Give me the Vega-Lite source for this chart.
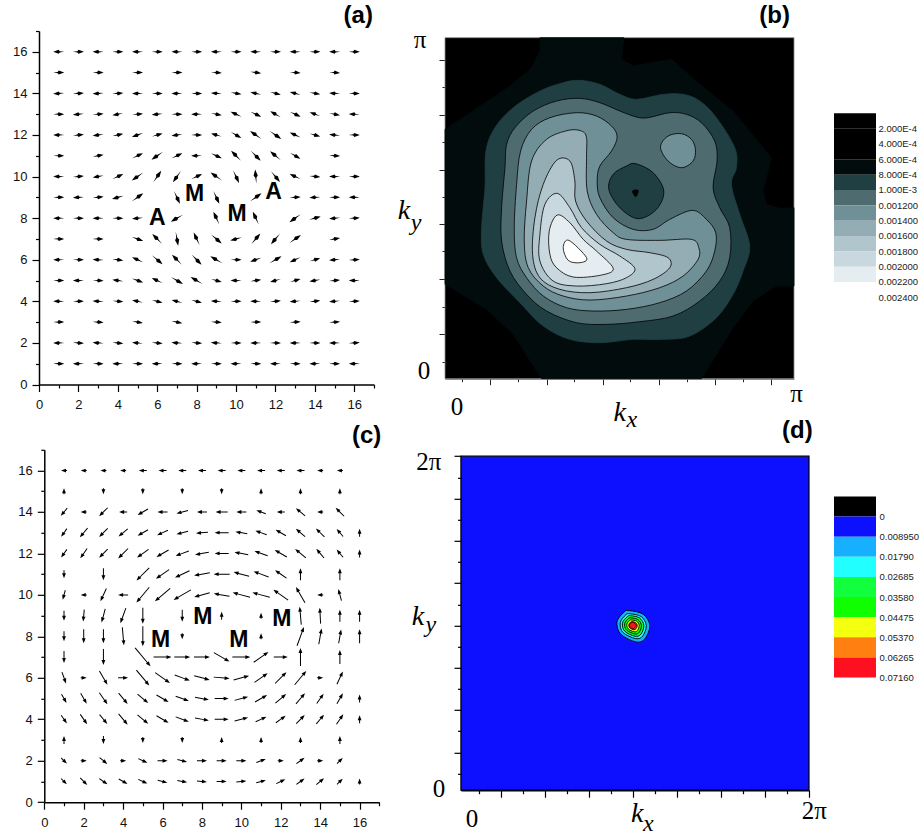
{
"$schema":"https://vega.github.io/schema/vega-lite/v6.json",
"background":"white",
"padding":{"left":12,"top":4,"right":0,"bottom":0},
"config":{"view":{"stroke":null},"axis":{"grid":false,"title":null,"labelFont":"Liberation Sans","labelColor":"#111","domainColor":"#000","tickColor":"#000","labelOverlap":false,"labelFlush":false}},
"bounds":"flush","spacing":{"row":64.8,"column":0},"columns":3,
"resolve":{"scale":{"fill":"independent","stroke":"independent","shape":"independent"}},
"concat":[
{"width":406,"height":353.5,
 "encoding":{"x":{"field":"x","type":"quantitative","scale":{"domain":[0,17],"nice":false,"range":[0,335]},"axis":{"values":[0,1,2,3,4,5,6,7,8,9,10,11,12,13,14,15,16,17],"labelExpr":"datum.value%2==0?datum.label:''","labelFontSize":13,"labelPadding":7,"domainWidth":1.5,"tickWidth":1.2,"tickSize":{"condition":{"test":"datum.value%2==0","value":7},"value":3.5}}},
 "y":{"field":"y","type":"quantitative","scale":{"domain":[0,17],"nice":false},"axis":{"values":[0,1,2,3,4,5,6,7,8,9,10,11,12,13,14,15,16,17],"labelExpr":"datum.value%2==0?datum.label:''","labelFontSize":13,"labelPadding":5,"domainWidth":1.5,"tickWidth":1.2,"tickSize":{"condition":{"test":"datum.value%2==0","value":7},"value":3.5}}}},
 "layer":[
 {"data":{"values":[
{"x":1,"y":16,"a":270,"l":11},{"x":2,"y":16,"a":90,"l":11},{"x":3,"y":16,"a":270,"l":11},{"x":4,"y":16,"a":90,"l":11},{"x":5,"y":16,"a":270,"l":11},{"x":6,"y":16,"a":90,"l":11},{"x":7,"y":16,"a":270,"l":11},{"x":8,"y":16,"a":90,"l":11},{"x":9,"y":16,"a":270,"l":11},{"x":10,"y":16,"a":90,"l":11},{"x":11,"y":16,"a":270,"l":11},{"x":12,"y":16,"a":90,"l":11},{"x":13,"y":16,"a":270,"l":11},{"x":14,"y":16,"a":90,"l":11},{"x":15,"y":16,"a":270,"l":11},{"x":16,"y":16,"a":90,"l":11},
{"x":1,"y":15,"a":90,"l":11},{"x":3,"y":15,"a":90,"l":11},{"x":5,"y":15,"a":90,"l":11},{"x":7,"y":15,"a":90,"l":11},{"x":9,"y":15,"a":95,"l":11},{"x":11,"y":15,"a":98,"l":11},{"x":13,"y":15,"a":95,"l":11},{"x":15,"y":15,"a":95,"l":11},
{"x":1,"y":14,"a":267,"l":11},{"x":2,"y":14,"a":87,"l":11},{"x":3,"y":14,"a":267,"l":11},{"x":4,"y":14,"a":87,"l":11},{"x":5,"y":14,"a":270,"l":11},{"x":6,"y":14,"a":90,"l":11},{"x":7,"y":14,"a":270,"l":11},{"x":8,"y":14,"a":90,"l":11},{"x":9,"y":14,"a":275,"l":11},{"x":10,"y":14,"a":100,"l":11},{"x":11,"y":14,"a":282,"l":11},{"x":12,"y":14,"a":105,"l":11},{"x":13,"y":14,"a":285,"l":11},{"x":14,"y":14,"a":100,"l":11},{"x":15,"y":14,"a":273,"l":11},{"x":16,"y":14,"a":90,"l":11},
{"x":1,"y":13,"a":90,"l":11},{"x":2,"y":13,"a":265,"l":11},{"x":3,"y":13,"a":85,"l":11},{"x":4,"y":13,"a":260,"l":11},{"x":5,"y":13,"a":85,"l":11},{"x":6,"y":13,"a":265,"l":11},{"x":7,"y":13,"a":90,"l":11},{"x":8,"y":13,"a":270,"l":11},{"x":9,"y":13,"a":100,"l":11},{"x":10,"y":13,"a":295,"l":12},{"x":11,"y":13,"a":115,"l":12},{"x":12,"y":13,"a":300,"l":12},{"x":13,"y":13,"a":115,"l":12},{"x":14,"y":13,"a":290,"l":11},{"x":15,"y":13,"a":100,"l":11},{"x":16,"y":13,"a":273,"l":11},
{"x":1,"y":12,"a":270,"l":11},{"x":2,"y":12,"a":85,"l":11},{"x":3,"y":12,"a":262,"l":11},{"x":4,"y":12,"a":78,"l":11},{"x":5,"y":12,"a":250,"l":12},{"x":6,"y":12,"a":75,"l":11},{"x":7,"y":12,"a":262,"l":11},{"x":8,"y":12,"a":90,"l":11},{"x":9,"y":12,"a":285,"l":11},{"x":10,"y":12,"a":120,"l":12},{"x":11,"y":12,"a":305,"l":14},{"x":12,"y":12,"a":125,"l":14},{"x":13,"y":12,"a":295,"l":12},{"x":14,"y":12,"a":105,"l":11},{"x":15,"y":12,"a":275,"l":11},{"x":16,"y":12,"a":90,"l":11},
{"x":1,"y":11,"a":90,"l":11},{"x":3,"y":11,"a":80,"l":11},{"x":5,"y":11,"a":65,"l":12},{"x":6,"y":11,"a":235,"l":14},{"x":7,"y":11,"a":65,"l":12},{"x":8,"y":11,"a":270,"l":11},{"x":9,"y":11,"a":115,"l":12},{"x":10,"y":11,"a":315,"l":14},{"x":11,"y":11,"a":135,"l":14},{"x":12,"y":11,"a":310,"l":14},{"x":13,"y":11,"a":120,"l":12},{"x":15,"y":11,"a":93,"l":11},
{"x":1,"y":10,"a":270,"l":11},{"x":2,"y":10,"a":85,"l":11},{"x":3,"y":10,"a":260,"l":11},{"x":4,"y":10,"a":65,"l":12},{"x":5,"y":10,"a":235,"l":14},{"x":6,"y":10,"a":35,"l":14},{"x":7,"y":10,"a":215,"l":14},{"x":8,"y":10,"a":65,"l":12},{"x":9,"y":10,"a":305,"l":14},{"x":10,"y":10,"a":155,"l":14},{"x":11,"y":10,"a":355,"l":14},{"x":12,"y":10,"a":140,"l":14},{"x":13,"y":10,"a":295,"l":12},{"x":14,"y":10,"a":95,"l":11},{"x":15,"y":10,"a":270,"l":11},{"x":16,"y":10,"a":90,"l":11},
{"x":1,"y":9,"a":90,"l":11},{"x":2,"y":9,"a":267,"l":11},{"x":3,"y":9,"a":85,"l":11},{"x":4,"y":9,"a":255,"l":12},{"x":5,"y":9,"a":55,"l":14},{"x":7,"y":9,"a":155,"l":14},{"x":9,"y":9,"a":155,"l":14},{"x":11,"y":9,"a":55,"l":14},{"x":13,"y":9,"a":87,"l":11},{"x":14,"y":9,"a":267,"l":11},{"x":15,"y":9,"a":90,"l":11},{"x":16,"y":9,"a":270,"l":11},
{"x":1,"y":8,"a":270,"l":11},{"x":2,"y":8,"a":90,"l":11},{"x":3,"y":8,"a":270,"l":11},{"x":4,"y":8,"a":90,"l":11},{"x":5,"y":8,"a":265,"l":11},{"x":7,"y":8,"a":240,"l":14},{"x":9,"y":8,"a":335,"l":14},{"x":11,"y":8,"a":335,"l":14},{"x":13,"y":8,"a":235,"l":14},{"x":14,"y":8,"a":75,"l":12},{"x":15,"y":8,"a":265,"l":11},{"x":16,"y":8,"a":87,"l":11},
{"x":1,"y":7,"a":90,"l":11},{"x":3,"y":7,"a":90,"l":11},{"x":5,"y":7,"a":110,"l":12},{"x":6,"y":7,"a":315,"l":14},{"x":7,"y":7,"a":170,"l":14},{"x":8,"y":7,"a":335,"l":14},{"x":9,"y":7,"a":130,"l":14},{"x":10,"y":7,"a":255,"l":12},{"x":11,"y":7,"a":40,"l":14},{"x":12,"y":7,"a":220,"l":14},{"x":13,"y":7,"a":55,"l":14},{"x":15,"y":7,"a":80,"l":11},
{"x":1,"y":6,"a":270,"l":11},{"x":2,"y":6,"a":90,"l":11},{"x":3,"y":6,"a":273,"l":11},{"x":4,"y":6,"a":98,"l":11},{"x":5,"y":6,"a":295,"l":12},{"x":6,"y":6,"a":130,"l":14},{"x":7,"y":6,"a":315,"l":14},{"x":8,"y":6,"a":135,"l":14},{"x":9,"y":6,"a":300,"l":14},{"x":10,"y":6,"a":90,"l":11},{"x":11,"y":6,"a":250,"l":12},{"x":12,"y":6,"a":60,"l":14},{"x":13,"y":6,"a":245,"l":12},{"x":14,"y":6,"a":75,"l":11},{"x":15,"y":6,"a":265,"l":11},{"x":16,"y":6,"a":87,"l":11},
{"x":1,"y":5,"a":90,"l":11},{"x":2,"y":5,"a":270,"l":11},{"x":3,"y":5,"a":93,"l":11},{"x":4,"y":5,"a":278,"l":11},{"x":5,"y":5,"a":110,"l":12},{"x":6,"y":5,"a":295,"l":12},{"x":7,"y":5,"a":120,"l":14},{"x":8,"y":5,"a":300,"l":14},{"x":9,"y":5,"a":105,"l":11},{"x":10,"y":5,"a":270,"l":11},{"x":11,"y":5,"a":82,"l":11},{"x":12,"y":5,"a":255,"l":11},{"x":13,"y":5,"a":75,"l":11},{"x":14,"y":5,"a":260,"l":11},{"x":15,"y":5,"a":85,"l":11},{"x":16,"y":5,"a":270,"l":11},
{"x":1,"y":4,"a":270,"l":11},{"x":2,"y":4,"a":90,"l":11},{"x":3,"y":4,"a":273,"l":11},{"x":4,"y":4,"a":95,"l":11},{"x":5,"y":4,"a":282,"l":11},{"x":6,"y":4,"a":105,"l":11},{"x":7,"y":4,"a":285,"l":11},{"x":8,"y":4,"a":105,"l":11},{"x":9,"y":4,"a":273,"l":11},{"x":10,"y":4,"a":90,"l":11},{"x":11,"y":4,"a":270,"l":11},{"x":12,"y":4,"a":85,"l":11},{"x":13,"y":4,"a":265,"l":11},{"x":14,"y":4,"a":82,"l":11},{"x":15,"y":4,"a":265,"l":11},{"x":16,"y":4,"a":87,"l":11},
{"x":1,"y":3,"a":90,"l":11},{"x":3,"y":3,"a":93,"l":11},{"x":5,"y":3,"a":100,"l":11},{"x":7,"y":3,"a":102,"l":11},{"x":9,"y":3,"a":93,"l":11},{"x":11,"y":3,"a":90,"l":11},{"x":13,"y":3,"a":87,"l":11},{"x":15,"y":3,"a":85,"l":11},
{"x":1,"y":2,"a":270,"l":11},{"x":2,"y":2,"a":93,"l":11},{"x":3,"y":2,"a":273,"l":11},{"x":4,"y":2,"a":95,"l":11},{"x":5,"y":2,"a":275,"l":11},{"x":6,"y":2,"a":95,"l":11},{"x":7,"y":2,"a":273,"l":11},{"x":8,"y":2,"a":93,"l":11},{"x":9,"y":2,"a":273,"l":11},{"x":10,"y":2,"a":90,"l":11},{"x":11,"y":2,"a":270,"l":11},{"x":12,"y":2,"a":90,"l":11},{"x":13,"y":2,"a":270,"l":11},{"x":14,"y":2,"a":90,"l":11},{"x":15,"y":2,"a":270,"l":11},{"x":16,"y":2,"a":87,"l":11},
{"x":1,"y":1,"a":90,"l":11},{"x":2,"y":1,"a":270,"l":11},{"x":3,"y":1,"a":90,"l":11},{"x":4,"y":1,"a":270,"l":11},{"x":5,"y":1,"a":90,"l":11},{"x":6,"y":1,"a":270,"l":11},{"x":7,"y":1,"a":90,"l":11},{"x":8,"y":1,"a":270,"l":11},{"x":9,"y":1,"a":90,"l":11},{"x":10,"y":1,"a":270,"l":11},{"x":11,"y":1,"a":90,"l":11},{"x":12,"y":1,"a":270,"l":11},{"x":13,"y":1,"a":90,"l":11},{"x":14,"y":1,"a":270,"l":11},{"x":15,"y":1,"a":90,"l":11},{"x":16,"y":1,"a":270,"l":11}
 ]},
 "mark":{"type":"point","filled":true,"size":4,"opacity":1,"color":"#000"},
 "encoding":{"angle":{"field":"a","type":"quantitative","scale":null},
 "shape":{"field":"l","type":"nominal","legend":null,"scale":{"domain":[11,12,14],"range":["M0,-5.5L2,0L.6,1L0,5.5L-.6,1L-2,0Z","M0,-6L2,-.5L.6,1L0,6L-.6,1L-2,-.5Z","M0,-7L2.1,-1L.6,1L0,7L-.6,1L-2.1,-1Z"]}}}},
 {"data":{"values":[{"x":6,"y":8,"t":"A"},{"x":7.9,"y":9.15,"t":"M"},{"x":10.05,"y":8.2,"t":"M"},{"x":11.9,"y":9.25,"t":"A"}]},
 "mark":{"type":"text","font":"Liberation Sans","fontWeight":"bold","fontSize":23,"color":"#000"},"encoding":{"text":{"field":"t"}}},
 {"data":{"values":[{"x":16.2,"y":17.7,"t":"(a)"}]},
 "mark":{"type":"text","font":"Liberation Sans","fontWeight":"bold","fontSize":24,"color":"#000"},"encoding":{"text":{"field":"t"}}}
 ]},
{"width":389,"height":353.5,
 "encoding":{"x":{"field":"x","type":"quantitative","scale":{"domain":[0,1048],"nice":false,"range":[0,349]},"axis":{"offset":-5.8,"values":[51,135,220,305,388,473,557,642,726,810,894,978],"labels":false,"domainColor":"#666","tickColor":"#222","tickSize":{"condition":{"test":"indexof([135,305,473,642,810,978],datum.value)>=0","value":6},"value":3}}},
 "y":{"field":"y","type":"quantitative","scale":{"domain":[0,1023],"nice":false,"range":[347.7,6.7]},"axis":{"values":[51,133,216,299,382,463,545,627,709,792,874,957],"labels":false,"domainColor":"#666","tickColor":"#222","tickSize":{"condition":{"test":"indexof([133,299,463,627,792,957],datum.value)>=0","value":6},"value":3}}}},
 "layer":[
 {"data":{"values":[
{"c":"BG","x":0,"y":0},{"c":"BG","x":0,"y":1023},{"c":"BG","x":1048,"y":1023},{"c":"BG","x":1048,"y":0},
{"c":"L0","x":285,"y":1023},{"c":"L0","x":285,"y":983},{"c":"L0","x":260,"y":933},{"c":"L0","x":195,"y":878},{"c":"L0","x":0,"y":748},{"c":"L0","x":0,"y":283},{"c":"L0","x":125,"y":208},{"c":"L0","x":205,"y":133},{"c":"L0","x":290,"y":0},{"c":"L0","x":770,"y":0},{"c":"L0","x":865,"y":153},{"c":"L0","x":925,"y":233},{"c":"L0","x":995,"y":278},{"c":"L0","x":1048,"y":278},{"c":"L0","x":1048,"y":513},{"c":"L0","x":1005,"y":511},{"c":"L0","x":965,"y":523},{"c":"L0","x":955,"y":563},{"c":"L0","x":980,"y":663},{"c":"L0","x":865,"y":803},{"c":"L0","x":765,"y":883},{"c":"L0","x":680,"y":958},{"c":"L0","x":565,"y":938},{"c":"L0","x":530,"y":958},{"c":"L0","x":537,"y":1023}
 ]},
 "mark":{"type":"line","interpolate":"linear-closed","strokeWidth":0.8},
 "encoding":{"order":{"value":null},
 "fill":{"field":"c","type":"nominal","legend":null,"scale":{"domain":["BG","L0","L1","L2","L3","I","B","S","L4","L5","L6","L7","L8"],"range":["#000000","#020c0d","#1f3f42","#4e6b70","#6f9096","#6f9096","#1f3f42","#000000","#94acb4","#b1c5cd","#c9d8df","#e6edf0","#ffffff"]}},
 "stroke":{"field":"c","type":"nominal","legend":null,"scale":{"domain":["BG","L0","L1","L2","L3","I","B","S","L4","L5","L6","L7","L8"],"range":["#888888","#020c0d","#1f3f42","#000000","#000000","#000000","#000000","#000000","#000000","#000000","#000000","#000000","#000000"]}}}},
 {"data":{"values":[
{"c":"L1","x":405,"y":895},{"c":"L1","x":465,"y":883},{"c":"L1","x":525,"y":853},{"c":"L1","x":575,"y":838},{"c":"L1","x":655,"y":853},{"c":"L1","x":715,"y":853},{"c":"L1","x":765,"y":833},{"c":"L1","x":815,"y":783},{"c":"L1","x":870,"y":693},{"c":"L1","x":875,"y":633},{"c":"L1","x":860,"y":583},{"c":"L1","x":885,"y":493},{"c":"L1","x":915,"y":398},{"c":"L1","x":895,"y":323},{"c":"L1","x":865,"y":253},{"c":"L1","x":815,"y":183},{"c":"L1","x":735,"y":128},{"c":"L1","x":655,"y":118},{"c":"L1","x":565,"y":118},{"c":"L1","x":465,"y":108},{"c":"L1","x":375,"y":118},{"c":"L1","x":295,"y":158},{"c":"L1","x":225,"y":228},{"c":"L1","x":155,"y":303},{"c":"L1","x":115,"y":373},{"c":"L1","x":110,"y":453},{"c":"L1","x":120,"y":573},{"c":"L1","x":123,"y":683},{"c":"L1","x":150,"y":753},{"c":"L1","x":205,"y":813},{"c":"L1","x":285,"y":863},{"c":"L1","x":355,"y":888},
{"c":"L2","x":405,"y":841},{"c":"L2","x":465,"y":828},{"c":"L2","x":525,"y":803},{"c":"L2","x":575,"y":785},{"c":"L2","x":610,"y":783},{"c":"L2","x":675,"y":798},{"c":"L2","x":725,"y":793},{"c":"L2","x":770,"y":768},{"c":"L2","x":810,"y":713},{"c":"L2","x":817,"y":653},{"c":"L2","x":805,"y":573},{"c":"L2","x":825,"y":513},{"c":"L2","x":855,"y":453},{"c":"L2","x":855,"y":363},{"c":"L2","x":825,"y":293},{"c":"L2","x":765,"y":233},{"c":"L2","x":685,"y":188},{"c":"L2","x":585,"y":171},{"c":"L2","x":485,"y":163},{"c":"L2","x":395,"y":168},{"c":"L2","x":305,"y":203},{"c":"L2","x":245,"y":253},{"c":"L2","x":195,"y":323},{"c":"L2","x":170,"y":413},{"c":"L2","x":170,"y":513},{"c":"L2","x":180,"y":633},{"c":"L2","x":185,"y":703},{"c":"L2","x":210,"y":753},{"c":"L2","x":265,"y":803},{"c":"L2","x":335,"y":833},
{"c":"L3","x":395,"y":798},{"c":"L3","x":455,"y":788},{"c":"L3","x":500,"y":758},{"c":"L3","x":517,"y":725},{"c":"L3","x":500,"y":683},{"c":"L3","x":465,"y":638},{"c":"L3","x":457,"y":593},{"c":"L3","x":465,"y":543},{"c":"L3","x":505,"y":483},{"c":"L3","x":565,"y":448},{"c":"L3","x":625,"y":448},{"c":"L3","x":675,"y":478},{"c":"L3","x":743,"y":505},{"c":"L3","x":785,"y":478},{"c":"L3","x":813,"y":438},{"c":"L3","x":810,"y":383},{"c":"L3","x":785,"y":323},{"c":"L3","x":725,"y":263},{"c":"L3","x":645,"y":228},{"c":"L3","x":545,"y":208},{"c":"L3","x":445,"y":203},{"c":"L3","x":365,"y":213},{"c":"L3","x":295,"y":248},{"c":"L3","x":245,"y":303},{"c":"L3","x":215,"y":363},{"c":"L3","x":208,"y":453},{"c":"L3","x":215,"y":583},{"c":"L3","x":227,"y":683},{"c":"L3","x":260,"y":748},{"c":"L3","x":315,"y":783},
{"c":"I","x":670,"y":728},{"c":"I","x":710,"y":735},{"c":"I","x":740,"y":718},{"c":"I","x":752,"y":688},{"c":"I","x":745,"y":653},{"c":"I","x":710,"y":633},{"c":"I","x":670,"y":653},{"c":"I","x":647,"y":695},
{"c":"B","x":573,"y":645},{"c":"B","x":625,"y":618},{"c":"B","x":657,"y":563},{"c":"B","x":635,"y":508},{"c":"B","x":580,"y":480},{"c":"B","x":525,"y":513},{"c":"B","x":492,"y":568},{"c":"B","x":505,"y":613},{"c":"B","x":545,"y":638},
{"c":"S","x":563,"y":563},{"c":"S","x":580,"y":565},{"c":"S","x":573,"y":546},
{"c":"L4","x":370,"y":745},{"c":"L4","x":410,"y":743},{"c":"L4","x":425,"y":723},{"c":"L4","x":425,"y":663},{"c":"L4","x":427,"y":563},{"c":"L4","x":455,"y":493},{"c":"L4","x":505,"y":438},{"c":"L4","x":545,"y":418},{"c":"L4","x":645,"y":415},{"c":"L4","x":740,"y":418},{"c":"L4","x":762,"y":393},{"c":"L4","x":760,"y":358},{"c":"L4","x":715,"y":308},{"c":"L4","x":645,"y":273},{"c":"L4","x":545,"y":248},{"c":"L4","x":435,"y":236},{"c":"L4","x":355,"y":248},{"c":"L4","x":295,"y":278},{"c":"L4","x":250,"y":333},{"c":"L4","x":238,"y":413},{"c":"L4","x":245,"y":533},{"c":"L4","x":260,"y":653},{"c":"L4","x":305,"y":718},
{"c":"L5","x":335,"y":655},{"c":"L5","x":375,"y":653},{"c":"L5","x":390,"y":593},{"c":"L5","x":392,"y":533},{"c":"L5","x":425,"y":473},{"c":"L5","x":485,"y":413},{"c":"L5","x":545,"y":388},{"c":"L5","x":615,"y":378},{"c":"L5","x":670,"y":363},{"c":"L5","x":675,"y":333},{"c":"L5","x":625,"y":298},{"c":"L5","x":545,"y":273},{"c":"L5","x":435,"y":258},{"c":"L5","x":345,"y":268},{"c":"L5","x":285,"y":303},{"c":"L5","x":263,"y":373},{"c":"L5","x":270,"y":483},{"c":"L5","x":295,"y":583},
{"c":"L6","x":337,"y":556},{"c":"L6","x":375,"y":513},{"c":"L6","x":410,"y":453},{"c":"L6","x":465,"y":403},{"c":"L6","x":525,"y":368},{"c":"L6","x":570,"y":331},{"c":"L6","x":545,"y":303},{"c":"L6","x":485,"y":285},{"c":"L6","x":395,"y":278},{"c":"L6","x":325,"y":293},{"c":"L6","x":285,"y":353},{"c":"L6","x":285,"y":433},{"c":"L6","x":300,"y":523},
{"c":"L7","x":337,"y":491},{"c":"L7","x":375,"y":468},{"c":"L7","x":415,"y":418},{"c":"L7","x":455,"y":383},{"c":"L7","x":505,"y":331},{"c":"L7","x":470,"y":311},{"c":"L7","x":385,"y":305},{"c":"L7","x":335,"y":333},{"c":"L7","x":315,"y":373},{"c":"L7","x":313,"y":443},
{"c":"L8","x":372,"y":415},{"c":"L8","x":425,"y":363},{"c":"L8","x":405,"y":348},{"c":"L8","x":370,"y":355},{"c":"L8","x":355,"y":393}
 ]},
 "mark":{"type":"line","interpolate":"cardinal-closed","strokeWidth":0.8},
 "encoding":{"order":{"value":null},
 "fill":{"field":"c","type":"nominal","legend":null,"scale":{"domain":["BG","L0","L1","L2","L3","I","B","S","L4","L5","L6","L7","L8"],"range":["#000000","#020c0d","#1f3f42","#4e6b70","#6f9096","#6f9096","#1f3f42","#000000","#94acb4","#b1c5cd","#c9d8df","#e6edf0","#ffffff"]}},
 "stroke":{"field":"c","type":"nominal","legend":null,"scale":{"domain":["BG","L0","L1","L2","L3","I","B","S","L4","L5","L6","L7","L8"],"range":["#888888","#020c0d","#1f3f42","#000000","#000000","#000000","#000000","#000000","#000000","#000000","#000000","#000000","#000000"]}}}},
 {"data":{"values":[{"x":-75,"y":1016,"t":"π"},{"x":-63,"y":23,"t":"0"},{"x":36,"y":-85,"t":"0"},{"x":1056,"y":-46,"t":"π"}]},
 "mark":{"type":"text","font":"Liberation Serif","fontSize":25,"color":"#000"},"encoding":{"text":{"field":"t"}}},
 {"data":{"values":[{"x":525,"y":-103,"t":"k"},{"x":-123,"y":503,"t":"k"}]},
 "mark":{"type":"text","font":"Liberation Serif","fontStyle":"italic","fontSize":28,"color":"#000"},"encoding":{"text":{"field":"t"}}},
 {"data":{"values":[{"x":561,"y":-124,"t":"x"},{"x":-87,"y":467,"t":"y"}]},
 "mark":{"type":"text","font":"Liberation Serif","fontStyle":"italic","fontSize":24,"color":"#000"},"encoding":{"text":{"field":"t"}}},
 {"data":{"values":[{"x":990,"y":1088,"t":"(b)"}]},
 "mark":{"type":"text","font":"Liberation Sans","fontWeight":"bold","fontSize":24,"color":"#000"},"encoding":{"text":{"field":"t"}}}
 ]},
{"width":42,"height":353.5,
 "data":{"values":[{"a":0,"b":1,"c":"a"},{"a":1,"b":2,"c":"b"},{"a":2,"b":3,"c":"c"},{"a":3,"b":4,"c":"d"},{"a":4,"b":5,"c":"e"},{"a":5,"b":6,"c":"f"},{"a":6,"b":7,"c":"g"},{"a":7,"b":8,"c":"h"},{"a":8,"b":9,"c":"i"},{"a":9,"b":10,"c":"j"},{"a":10,"b":11,"c":"k"}]},
 "mark":{"type":"rect"},
 "encoding":{"y":{"field":"a","type":"quantitative","scale":{"domain":[0,12],"nice":false,"zero":false,"range":[82.3,266.3]},"axis":{"orient":"right","values":[1,2,3,4,5,6,7,8,9,10,11,12],"labelExpr":"['2.000E-4','4.000E-4','6.000E-4','8.000E-4','1.000E-3','0.001200','0.001400','0.001600','0.001800','0.002000','0.002200','0.002400'][datum.value-1]","domain":false,"ticks":false,"labelFontSize":9.5,"labelPadding":2,"labelColor":"#222"}},
 "y2":{"field":"b"},
 "fill":{"field":"c","type":"nominal","legend":null,"scale":{"domain":["a","b","c","d","e","f","g","h","i","j","k"],"range":["#000000","#000000","#000000","#020c0d","#1f3f42","#4e6b70","#6f9096","#94acb4","#b1c5cd","#c9d8df","#e6edf0"]}}}},
{"width":406,"height":352.4,
 "encoding":{"x":{"field":"x","type":"quantitative","scale":{"domain":[0,17],"nice":false,"range":[5.3,340.3]},"axis":{"values":[0,1,2,3,4,5,6,7,8,9,10,11,12,13,14,15,16,17],"labelExpr":"datum.value%2==0?datum.label:''","labelFontSize":13,"labelPadding":7,"domainWidth":1.5,"tickWidth":1.2,"tickSize":{"condition":{"test":"datum.value%2==0","value":7},"value":3.5}}},
 "y":{"field":"y","type":"quantitative","scale":{"domain":[0,17],"nice":false},"axis":{"offset":-5.3,"values":[0,1,2,3,4,5,6,7,8,9,10,11,12,13,14,15,16,17],"labelExpr":"datum.value%2==0?datum.label:''","labelFontSize":13,"labelPadding":5,"domainWidth":1.5,"tickWidth":1.2,"tickSize":{"condition":{"test":"datum.value%2==0","value":7},"value":3.5}}}},
 "layer":[
 {"data":{"values":[
{"x":1,"y":16,"a":270,"l":6},{"x":2,"y":16,"a":270,"l":6},{"x":3,"y":16,"a":270,"l":6},{"x":4,"y":16,"a":270,"l":6},{"x":5,"y":16,"a":270,"l":8},{"x":6,"y":16,"a":270,"l":8},{"x":7,"y":16,"a":270,"l":8},{"x":8,"y":16,"a":270,"l":8},{"x":9,"y":16,"a":270,"l":8},{"x":10,"y":16,"a":270,"l":8},{"x":11,"y":16,"a":270,"l":8},{"x":12,"y":16,"a":270,"l":8},{"x":13,"y":16,"a":270,"l":8},{"x":14,"y":16,"a":270,"l":6},{"x":15,"y":16,"a":270,"l":6},
{"x":1,"y":15,"a":0,"l":6},{"x":3,"y":15,"a":180,"l":6},{"x":5,"y":15,"a":180,"l":6},{"x":7,"y":15,"a":180,"l":6},{"x":9,"y":15,"a":180,"l":6},{"x":11,"y":15,"a":0,"l":6},{"x":13,"y":15,"a":0,"l":6},{"x":15,"y":15,"a":0,"l":6},
{"x":1,"y":14,"a":220,"l":10},{"x":2,"y":14,"a":270,"l":6},{"x":3,"y":14,"a":225,"l":12},{"x":4,"y":14,"a":270,"l":8},{"x":5,"y":14,"a":240,"l":12},{"x":6,"y":14,"a":270,"l":10},{"x":7,"y":14,"a":255,"l":12},{"x":8,"y":14,"a":270,"l":10},{"x":9,"y":14,"a":270,"l":12},{"x":10,"y":14,"a":270,"l":10},{"x":11,"y":14,"a":290,"l":10},{"x":12,"y":14,"a":270,"l":8},{"x":13,"y":14,"a":310,"l":12},{"x":14,"y":14,"a":270,"l":6},{"x":15,"y":14,"a":315,"l":12},
{"x":1,"y":13,"a":215,"l":10},{"x":2,"y":13,"a":220,"l":12},{"x":3,"y":13,"a":225,"l":12},{"x":4,"y":13,"a":230,"l":12},{"x":5,"y":13,"a":240,"l":12},{"x":6,"y":13,"a":245,"l":12},{"x":7,"y":13,"a":255,"l":12},{"x":8,"y":13,"a":265,"l":12},{"x":9,"y":13,"a":270,"l":14},{"x":10,"y":13,"a":280,"l":12},{"x":11,"y":13,"a":290,"l":12},{"x":12,"y":13,"a":300,"l":12},{"x":13,"y":13,"a":310,"l":12},{"x":14,"y":13,"a":315,"l":12},{"x":15,"y":13,"a":320,"l":10},{"x":16,"y":13,"a":0,"l":8},
{"x":1,"y":12,"a":215,"l":10},{"x":2,"y":12,"a":215,"l":12},{"x":3,"y":12,"a":225,"l":12},{"x":4,"y":12,"a":225,"l":14},{"x":5,"y":12,"a":235,"l":14},{"x":6,"y":12,"a":240,"l":14},{"x":7,"y":12,"a":250,"l":14},{"x":8,"y":12,"a":260,"l":14},{"x":9,"y":12,"a":270,"l":14},{"x":10,"y":12,"a":280,"l":14},{"x":11,"y":12,"a":290,"l":14},{"x":12,"y":12,"a":300,"l":14},{"x":13,"y":12,"a":310,"l":14},{"x":14,"y":12,"a":320,"l":12},{"x":15,"y":12,"a":320,"l":10},{"x":16,"y":12,"a":0,"l":8},
{"x":1,"y":11,"a":180,"l":8},{"x":3,"y":11,"a":180,"l":12},{"x":5,"y":11,"a":225,"l":18},{"x":6,"y":11,"a":235,"l":16},{"x":7,"y":11,"a":245,"l":16},{"x":8,"y":11,"a":260,"l":16},{"x":9,"y":11,"a":270,"l":16},{"x":10,"y":11,"a":285,"l":16},{"x":11,"y":11,"a":290,"l":16},{"x":12,"y":11,"a":305,"l":14},{"x":13,"y":11,"a":0,"l":12},{"x":15,"y":11,"a":0,"l":12},
{"x":1,"y":10,"a":195,"l":10},{"x":2,"y":10,"a":270,"l":6},{"x":3,"y":10,"a":205,"l":14},{"x":4,"y":10,"a":270,"l":10},{"x":5,"y":10,"a":220,"l":20},{"x":6,"y":10,"a":230,"l":20},{"x":7,"y":10,"a":240,"l":20},{"x":8,"y":10,"a":255,"l":16},{"x":9,"y":10,"a":280,"l":16},{"x":10,"y":10,"a":285,"l":18},{"x":11,"y":10,"a":285,"l":18},{"x":12,"y":10,"a":305,"l":18},{"x":13,"y":10,"a":330,"l":18},{"x":14,"y":10,"a":270,"l":6},{"x":15,"y":10,"a":345,"l":12},
{"x":1,"y":9,"a":180,"l":10},{"x":2,"y":9,"a":185,"l":12},{"x":3,"y":9,"a":195,"l":14},{"x":4,"y":9,"a":200,"l":16},{"x":5,"y":9,"a":180,"l":16},{"x":7,"y":9,"a":180,"l":12},{"x":9,"y":9,"a":0,"l":8},{"x":11,"y":9,"a":0,"l":6},{"x":13,"y":9,"a":355,"l":18},{"x":14,"y":9,"a":357,"l":16},{"x":15,"y":9,"a":0,"l":12},{"x":16,"y":9,"a":0,"l":12},
{"x":1,"y":8,"a":180,"l":10},{"x":2,"y":8,"a":180,"l":14},{"x":3,"y":8,"a":180,"l":14},{"x":4,"y":8,"a":175,"l":18},{"x":5,"y":8,"a":180,"l":20},{"x":7,"y":8,"a":180,"l":6},{"x":11,"y":8,"a":0,"l":6},{"x":13,"y":8,"a":20,"l":20},{"x":14,"y":8,"a":10,"l":16},{"x":15,"y":8,"a":10,"l":14},{"x":16,"y":8,"a":0,"l":14},
{"x":1,"y":7,"a":180,"l":12},{"x":3,"y":7,"a":180,"l":16},{"x":5,"y":7,"a":140,"l":24},{"x":6,"y":7,"a":90,"l":18},{"x":7,"y":7,"a":90,"l":16},{"x":8,"y":7,"a":90,"l":16},{"x":9,"y":7,"a":120,"l":18},{"x":10,"y":7,"a":90,"l":18},{"x":11,"y":7,"a":55,"l":18},{"x":12,"y":7,"a":90,"l":14},{"x":13,"y":7,"a":0,"l":18},{"x":15,"y":7,"a":0,"l":14},
{"x":1,"y":6,"a":160,"l":12},{"x":2,"y":6,"a":90,"l":6},{"x":3,"y":6,"a":150,"l":16},{"x":4,"y":6,"a":90,"l":10},{"x":5,"y":6,"a":140,"l":20},{"x":6,"y":6,"a":125,"l":18},{"x":7,"y":6,"a":110,"l":16},{"x":8,"y":6,"a":105,"l":16},{"x":9,"y":6,"a":95,"l":16},{"x":10,"y":6,"a":75,"l":16},{"x":11,"y":6,"a":55,"l":16},{"x":12,"y":6,"a":45,"l":16},{"x":13,"y":6,"a":40,"l":18},{"x":14,"y":6,"a":90,"l":6},{"x":15,"y":6,"a":25,"l":14},
{"x":1,"y":5,"a":150,"l":10},{"x":2,"y":5,"a":150,"l":12},{"x":3,"y":5,"a":145,"l":14},{"x":4,"y":5,"a":140,"l":14},{"x":5,"y":5,"a":130,"l":14},{"x":6,"y":5,"a":120,"l":14},{"x":7,"y":5,"a":110,"l":14},{"x":8,"y":5,"a":100,"l":14},{"x":9,"y":5,"a":90,"l":14},{"x":10,"y":5,"a":75,"l":14},{"x":11,"y":5,"a":60,"l":14},{"x":12,"y":5,"a":50,"l":14},{"x":13,"y":5,"a":40,"l":14},{"x":14,"y":5,"a":35,"l":12},{"x":15,"y":5,"a":30,"l":12},{"x":16,"y":5,"a":0,"l":8},
{"x":1,"y":4,"a":145,"l":10},{"x":2,"y":4,"a":145,"l":12},{"x":3,"y":4,"a":140,"l":12},{"x":4,"y":4,"a":140,"l":14},{"x":5,"y":4,"a":130,"l":14},{"x":6,"y":4,"a":120,"l":14},{"x":7,"y":4,"a":110,"l":14},{"x":8,"y":4,"a":100,"l":14},{"x":9,"y":4,"a":90,"l":14},{"x":10,"y":4,"a":75,"l":14},{"x":11,"y":4,"a":65,"l":12},{"x":12,"y":4,"a":55,"l":12},{"x":13,"y":4,"a":45,"l":12},{"x":14,"y":4,"a":40,"l":12},{"x":15,"y":4,"a":35,"l":12},{"x":16,"y":4,"a":0,"l":8},
{"x":1,"y":3,"a":0,"l":8},{"x":3,"y":3,"a":180,"l":8},{"x":5,"y":3,"a":180,"l":6},{"x":7,"y":3,"a":180,"l":6},{"x":9,"y":3,"a":0,"l":6},{"x":11,"y":3,"a":0,"l":6},{"x":13,"y":3,"a":0,"l":6},{"x":15,"y":3,"a":0,"l":8},
{"x":1,"y":2,"a":135,"l":8},{"x":2,"y":2,"a":90,"l":6},{"x":3,"y":2,"a":130,"l":10},{"x":4,"y":2,"a":90,"l":6},{"x":5,"y":2,"a":115,"l":10},{"x":6,"y":2,"a":90,"l":10},{"x":7,"y":2,"a":105,"l":10},{"x":8,"y":2,"a":90,"l":10},{"x":9,"y":2,"a":90,"l":10},{"x":10,"y":2,"a":90,"l":10},{"x":11,"y":2,"a":70,"l":10},{"x":12,"y":2,"a":90,"l":6},{"x":13,"y":2,"a":55,"l":10},{"x":14,"y":2,"a":90,"l":6},{"x":15,"y":2,"a":45,"l":8},
{"x":1,"y":1,"a":135,"l":8},{"x":2,"y":1,"a":135,"l":10},{"x":3,"y":1,"a":125,"l":10},{"x":4,"y":1,"a":120,"l":10},{"x":5,"y":1,"a":115,"l":10},{"x":6,"y":1,"a":105,"l":10},{"x":7,"y":1,"a":100,"l":10},{"x":8,"y":1,"a":95,"l":10},{"x":9,"y":1,"a":90,"l":10},{"x":10,"y":1,"a":85,"l":10},{"x":11,"y":1,"a":75,"l":10},{"x":12,"y":1,"a":65,"l":10},{"x":13,"y":1,"a":55,"l":10},{"x":14,"y":1,"a":50,"l":10},{"x":15,"y":1,"a":45,"l":8},{"x":16,"y":1,"a":0,"l":6}
 ]},
 "mark":{"type":"point","filled":true,"size":4,"opacity":1,"color":"#000"},
 "encoding":{"angle":{"field":"a","type":"quantitative","scale":null},
 "shape":{"field":"l","type":"nominal","legend":null,"scale":{"domain":[6,8,10,12,14,16,18,20,24],"range":["M0,-3L1.9,2L.5,2L.5,3L-.5,3L-.5,2L-1.9,2Z","M0,-4L1.9,1L.5,1L.5,4L-.5,4L-.5,1L-1.9,1Z","M0,-5L1.9,0L.5,0L.5,5L-.5,5L-.5,0L-1.9,0Z","M0,-6L1.9,-1L.5,-1L.5,6L-.5,6L-.5,-1L-1.9,-1Z","M0,-7L1.9,-2L.5,-2L.5,7L-.5,7L-.5,-2L-1.9,-2Z","M0,-8L1.9,-3L.5,-3L.5,8L-.5,8L-.5,-3L-1.9,-3Z","M0,-9L1.9,-4L.5,-4L.5,9L-.5,9L-.5,-4L-1.9,-4Z","M0,-10L1.9,-5L.5,-5L.5,10L-.5,10L-.5,-5L-1.9,-5Z","M0,-12L1.9,-7L.5,-7L.5,12L-.5,12L-.5,-7L-1.9,-7Z"]}}}},
 {"data":{"values":[{"x":5.9,"y":7.84,"t":"M"},{"x":8.05,"y":8.95,"t":"M"},{"x":9.87,"y":7.84,"t":"M"},{"x":12.05,"y":8.85,"t":"M"}]},
 "mark":{"type":"text","font":"Liberation Sans","fontWeight":"bold","fontSize":23,"color":"#000"},"encoding":{"text":{"field":"t"}}},
 {"data":{"values":[{"x":16.36,"y":17.68,"t":"(c)"}]},
 "mark":{"type":"text","font":"Liberation Sans","fontWeight":"bold","fontSize":24,"color":"#000"},"encoding":{"text":{"field":"t"}}}
 ]},
{"width":389,"height":352.4,
 "encoding":{"x":{"field":"x","type":"quantitative","scale":{"domain":[-0.803,15],"nice":false,"zero":false,"range":[16,364]},"axis":{"offset":-12,"values":[0,1,2,3,4,5,6,7,8,9,10,11,12,13,14,15],"labels":false,"domainWidth":1.5,"tickWidth":1.2,"tickSize":{"condition":{"test":"datum.value%2==1","value":7},"value":3.5}}},
 "y":{"field":"y","type":"quantitative","scale":{"domain":[-0.786,15],"nice":false,"zero":false,"range":[340.4,6.4]},"axis":{"offset":-16,"values":[0,1,2,3,4,5,6,7,8,9,10,11,12,13,14,15],"labels":false,"domainWidth":1.5,"tickWidth":1.2,"tickSize":{"condition":{"test":"datum.value%2==1","value":7},"value":3.5}}}},
 "layer":[
 {"data":{"values":[{"c":"BG","x":-0.803,"y":-0.786},{"c":"BG","x":-0.803,"y":15},{"c":"BG","x":15,"y":15},{"c":"BG","x":15,"y":-0.786}]},
 "mark":{"type":"line","interpolate":"linear-closed","strokeWidth":1.2,"stroke":"#000"},
 "encoding":{"order":{"value":null},
 "fill":{"field":"c","type":"nominal","legend":null,"scale":{"domain":["BG","L1","L2","L3","L4","L5","L6","L7"],"range":["#0c10ff","#17b0ff","#22ffff","#12ff3e","#10ff00","#f5ff10","#ff8010","#ff1020"]}}}},
 {"data":{"values":[
{"c":"L1","x":6.28,"y":7.17},{"c":"L1","x":6.6,"y":7.63},{"c":"L1","x":6.85,"y":7.7},{"c":"L1","x":7.47,"y":7.53},{"c":"L1","x":7.77,"y":7},{"c":"L1","x":7.55,"y":6.37},{"c":"L1","x":7.15,"y":6.22},{"c":"L1","x":6.45,"y":6.59},
{"c":"L2","x":6.43,"y":7.13},{"c":"L2","x":6.68,"y":7.5},{"c":"L2","x":6.87,"y":7.55},{"c":"L2","x":7.38,"y":7.42},{"c":"L2","x":7.61,"y":7},{"c":"L2","x":7.45,"y":6.5},{"c":"L2","x":7.13,"y":6.38},{"c":"L2","x":6.55,"y":6.67},
{"c":"L3","x":6.53,"y":7.11},{"c":"L3","x":6.74,"y":7.41},{"c":"L3","x":6.9,"y":7.46},{"c":"L3","x":7.31,"y":7.35},{"c":"L3","x":7.5,"y":7},{"c":"L3","x":7.37,"y":6.59},{"c":"L3","x":7.1,"y":6.49},{"c":"L3","x":6.63,"y":6.73},
{"c":"L4","x":6.63,"y":7.09},{"c":"L4","x":6.79,"y":7.32},{"c":"L4","x":6.92,"y":7.36},{"c":"L4","x":7.24,"y":7.27},{"c":"L4","x":7.39,"y":7},{"c":"L4","x":7.29,"y":6.68},{"c":"L4","x":7.08,"y":6.6},{"c":"L4","x":6.71,"y":6.79},
{"c":"L5","x":6.73,"y":7.06},{"c":"L5","x":6.85,"y":7.24},{"c":"L5","x":6.94,"y":7.26},{"c":"L5","x":7.18,"y":7.2},{"c":"L5","x":7.29,"y":7},{"c":"L5","x":7.21,"y":6.76},{"c":"L5","x":7.06,"y":6.7},{"c":"L5","x":6.79,"y":6.84},
{"c":"L6","x":6.82,"y":7.04},{"c":"L6","x":6.9,"y":7.16},{"c":"L6","x":6.96,"y":7.18},{"c":"L6","x":7.12,"y":7.14},{"c":"L6","x":7.2,"y":7},{"c":"L6","x":7.14,"y":6.84},{"c":"L6","x":7.04,"y":6.8},{"c":"L6","x":6.86,"y":6.89},
{"c":"L7","x":6.84,"y":7},{"c":"L7","x":7,"y":7.16},{"c":"L7","x":7.16,"y":7},{"c":"L7","x":7,"y":6.84}
 ]},
 "mark":{"type":"line","interpolate":"cardinal-closed","strokeWidth":0.9,"stroke":"#000"},
 "encoding":{"order":{"value":null},
 "fill":{"field":"c","type":"nominal","legend":null,"scale":{"domain":["BG","L1","L2","L3","L4","L5","L6","L7"],"range":["#0c10ff","#17b0ff","#22ffff","#12ff3e","#10ff00","#f5ff10","#ff8010","#ff1020"]}}}},
 {"data":{"values":[{"x":-2.26,"y":14.72,"t":"2π"},{"x":-1.8,"y":-0.75,"t":"0"},{"x":-0.3,"y":-2.17,"t":"0"},{"x":15.24,"y":-1.79,"t":"2π"}]},
 "mark":{"type":"text","font":"Liberation Serif","fontSize":25,"color":"#000"},"encoding":{"text":{"field":"t"}}},
 {"data":{"values":[{"x":7.2,"y":-1.93,"t":"k"},{"x":-2.76,"y":7.4,"t":"k"}]},
 "mark":{"type":"text","font":"Liberation Serif","fontStyle":"italic","fontSize":28,"color":"#000"},"encoding":{"text":{"field":"t"}}},
 {"data":{"values":[{"x":7.7,"y":-2.36,"t":"x"},{"x":-2.17,"y":7.03,"t":"y"}]},
 "mark":{"type":"text","font":"Liberation Serif","fontStyle":"italic","fontSize":24,"color":"#000"},"encoding":{"text":{"field":"t"}}},
 {"data":{"values":[{"x":14.47,"y":16.2,"t":"(d)"}]},
 "mark":{"type":"text","font":"Liberation Sans","fontWeight":"bold","fontSize":24,"color":"#000"},"encoding":{"text":{"field":"t"}}}
 ]},
{"width":42,"height":352.4,
 "data":{"values":[{"a":0,"b":1,"c":"a"},{"a":1,"b":2,"c":"b"},{"a":2,"b":3,"c":"c"},{"a":3,"b":4,"c":"d"},{"a":4,"b":5,"c":"e"},{"a":5,"b":6,"c":"f"},{"a":6,"b":7,"c":"g"},{"a":7,"b":8,"c":"h"},{"a":8,"b":9,"c":"i"}]},
 "mark":{"type":"rect"},
 "encoding":{"y":{"field":"a","type":"quantitative","scale":{"domain":[0,9],"nice":false,"zero":false,"range":[46.7,227.7]},"axis":{"orient":"right","values":[1,2,3,4,5,6,7,8,9],"labelExpr":"['0','0.008950','0.01790','0.02685','0.03580','0.04475','0.05370','0.06265','0.07160'][datum.value-1]","domain":false,"ticks":false,"labelFontSize":9.5,"labelPadding":3,"labelColor":"#222"}},
 "y2":{"field":"b"},
 "fill":{"field":"c","type":"nominal","legend":null,"scale":{"domain":["a","b","c","d","e","f","g","h","i"],"range":["#000000","#0c10ff","#17b0ff","#22ffff","#12ff3e","#10ff00","#f5ff10","#ff8010","#ff1020"]}}}}
]}
